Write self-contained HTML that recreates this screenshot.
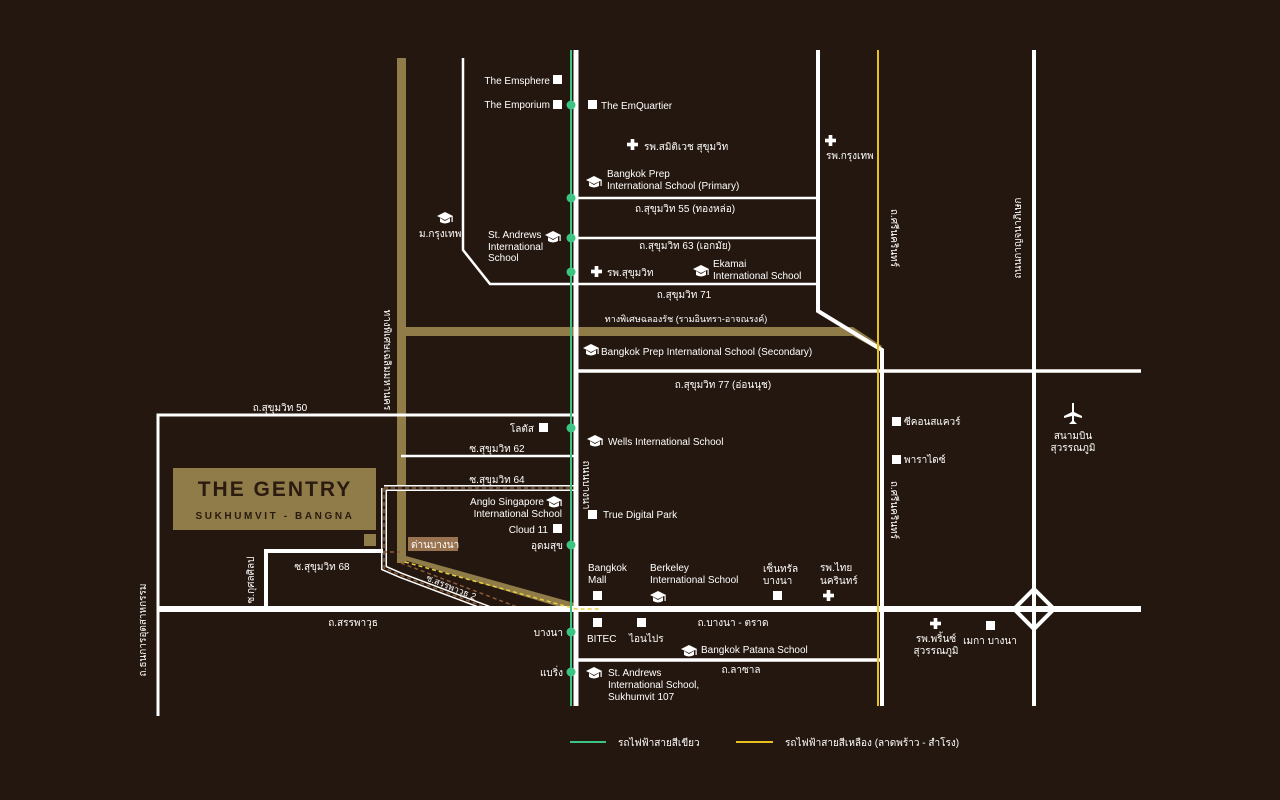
<!DOCTYPE html>
<html><head><meta charset="utf-8"><style>
html,body{margin:0;padding:0;background:#24170f;}
svg{display:block}
text{font-family:"Liberation Sans","DejaVu Sans",sans-serif;font-size:10px;fill:#fff;}
</style></head><body>
<svg width="1280" height="800" viewBox="0 0 1280 800" xmlns="http://www.w3.org/2000/svg">
<defs>
<symbol id="cap" viewBox="0 0 16 12"><polygon points="0,4 8,0 16,4 8,8" fill="#fff"/><path d="M3,6 L3,10 Q8,13 13,10 L13,6 L8,9 Z" fill="#fff"/><rect x="14.5" y="4" width="1.2" height="6" fill="#fff"/></symbol>
<symbol id="cross" viewBox="0 0 12 12"><rect x="4" y="0" width="4" height="12" fill="#fff"/><rect x="0" y="4" width="12" height="4" fill="#fff"/></symbol>
</defs>
<rect width="1280" height="800" fill="#24170f"/>

<!-- gold expressways -->
<rect x="397" y="58" width="9" height="505" fill="#8f7c48"/>
<rect x="401" y="327" width="452" height="9" fill="#8f7c48"/>
<polygon points="397,558 406,556 578,604 576,612" fill="#8f7c48"/>
<polygon points="853,327 882,346 878,350 853,336" fill="#8f7c48"/>

<!-- dashed rail (double white with dark dashes) -->
<g stroke="#fff" stroke-width="6" fill="none">
<polyline points="384,488 576,488"/>
<polyline points="384,488 384,568 400,575 490,609"/>
</g>
<g stroke="#24170f" stroke-width="3" fill="none">
<polyline points="384,488 576,488"/>
<polyline points="384,488 384,568 400,575 490,609"/>
</g>
<g stroke="#8a5a35" stroke-width="1.5" stroke-dasharray="4,3" fill="none">
<polyline points="384,488 576,488"/>
<polyline points="384,488 384,568 400,575 490,609"/>
<polyline points="401,563 520,608 576,608"/>
<line x1="369" y1="552" x2="400" y2="552"/>
</g>

<!-- white roads -->
<g stroke="#fff" fill="none">
<line x1="576" y1="50" x2="576" y2="706" stroke-width="5"/>
<polyline points="463,58 463,250 490,284 818,284" stroke-width="2.5"/>
<polyline points="818,50 818,311 882,350 882,706" stroke-width="4"/>
<line x1="1034" y1="50" x2="1034" y2="706" stroke-width="4"/>
<line x1="576" y1="198" x2="818" y2="198" stroke-width="2.5"/>
<line x1="576" y1="238" x2="818" y2="238" stroke-width="2.5"/>
<line x1="576" y1="371" x2="1141" y2="371" stroke-width="3.5"/>
<polyline points="158,716 158,415 576,415" stroke-width="3"/>
<line x1="401" y1="456" x2="576" y2="456" stroke-width="2.5"/>
<line x1="158" y1="609" x2="1141" y2="609" stroke-width="6"/>
<line x1="576" y1="660" x2="882" y2="660" stroke-width="3.5"/>
<polyline points="266,608 266,551 383,551" stroke-width="4"/>
<polygon points="1034,589 1054,609 1034,629 1014,609" stroke-width="4"/>
</g>
<polyline points="405,562 576,609 600,609" stroke="#e8d040" stroke-width="1.5" stroke-dasharray="4,3" fill="none"/>

<!-- green & yellow lines -->
<line x1="571" y1="50" x2="571" y2="706" stroke="#3cc482" stroke-width="2"/>
<line x1="878" y1="50" x2="878" y2="706" stroke="#e8c020" stroke-width="2"/>
<g fill="#3cc482">
<circle cx="571" cy="105" r="4.5"/><circle cx="571" cy="198" r="4.5"/><circle cx="571" cy="238" r="4.5"/><circle cx="571" cy="272" r="4.5"/>
<circle cx="571" cy="428" r="4.5"/><circle cx="571" cy="545" r="4.5"/><circle cx="571" cy="632" r="4.5"/><circle cx="571" cy="672" r="4.5"/>
</g>

<!-- Gentry logo -->
<rect x="173" y="468" width="203" height="62" fill="#8f7c48"/>
<text x="275" y="496" text-anchor="middle" style="font-size:21px;font-weight:bold;fill:#2a1a10;letter-spacing:2px">THE GENTRY</text>
<text x="275" y="519" text-anchor="middle" style="font-size:10px;font-weight:bold;fill:#2a1a10;letter-spacing:2.6px">SUKHUMVIT - BANGNA</text>
<rect x="364" y="534" width="12" height="12" fill="#8f7c48"/>
<rect x="408" y="537" width="50" height="14" fill="#9a7350"/>
<text x="411" y="548" style="font-size:10px">ด่านบางนา</text>

<!-- squares -->
<g fill="#fff">
<rect x="553" y="75" width="9" height="9"/><rect x="553" y="100" width="9" height="9"/><rect x="588" y="100" width="9" height="9"/>
<rect x="539" y="423" width="9" height="9"/><rect x="553" y="524" width="9" height="9"/><rect x="588" y="510" width="9" height="9"/>
<rect x="593" y="591" width="9" height="9"/><rect x="773" y="591" width="9" height="9"/><rect x="593" y="618" width="9" height="9"/><rect x="637" y="618" width="9" height="9"/>
<rect x="892" y="417" width="9" height="9"/><rect x="892" y="455" width="9" height="9"/><rect x="986" y="621" width="9" height="9"/>
</g>
<use href="#cross" x="627" y="139" width="11" height="11"/>
<use href="#cross" x="825" y="135" width="11" height="11"/>
<use href="#cross" x="591" y="266" width="11" height="11"/>
<use href="#cross" x="823" y="590" width="11" height="11"/>
<use href="#cross" x="930" y="618" width="11" height="11"/>
<use href="#cap" x="586" y="176" width="16" height="12"/>
<use href="#cap" x="437" y="212" width="16" height="12"/>
<use href="#cap" x="545" y="231" width="16" height="12"/>
<use href="#cap" x="693" y="265" width="16" height="12"/>
<use href="#cap" x="583" y="344" width="16" height="12"/>
<use href="#cap" x="587" y="435" width="16" height="12"/>
<use href="#cap" x="546" y="496" width="16" height="12"/>
<use href="#cap" x="650" y="591" width="16" height="12"/>
<use href="#cap" x="681" y="645" width="16" height="12"/>
<use href="#cap" x="586" y="667" width="16" height="12"/>
<!-- airplane -->
<path d="M1072,403 L1074,403 L1074,412 L1082,416 L1082,418 L1074,416 L1074,421 L1077,424 L1069,424 L1072,421 L1072,416 L1064,418 L1064,416 L1072,412 Z" fill="#fff"/>

<!-- labels -->
<g>
<text x="550" y="84" text-anchor="end">The Emsphere</text>
<text x="550" y="108" text-anchor="end">The Emporium</text>
<text x="601" y="109">The EmQuartier</text>
<text x="644" y="150">รพ.สมิติเวช สุขุมวิท</text>
<text x="607" y="177">Bangkok Prep</text>
<text x="607" y="189">International School (Primary)</text>
<text x="826" y="159">รพ.กรุงเทพ</text>
<text x="685" y="212" text-anchor="middle">ถ.สุขุมวิท 55 (ทองหล่อ)</text>
<text x="419" y="237">ม.กรุงเทพ</text>
<text x="488" y="238">St. Andrews</text>
<text x="488" y="250">International</text>
<text x="488" y="261">School</text>
<text x="685" y="249" text-anchor="middle">ถ.สุขุมวิท 63 (เอกมัย)</text>
<text x="607" y="276">รพ.สุขุมวิท</text>
<text x="713" y="267">Ekamai</text>
<text x="713" y="279">International School</text>
<text x="684" y="298" text-anchor="middle">ถ.สุขุมวิท 71</text>
<text x="686" y="322" text-anchor="middle" style="font-size:9px">ทางพิเศษฉลองรัช (รามอินทรา-อาจณรงค์)</text>
<text x="601" y="355">Bangkok Prep International School (Secondary)</text>
<text x="723" y="388" text-anchor="middle">ถ.สุขุมวิท 77 (อ่อนนุช)</text>
<text x="280" y="411" text-anchor="middle">ถ.สุขุมวิท 50</text>
<text x="534" y="432" text-anchor="end">โลตัส</text>
<text x="608" y="445">Wells International School</text>
<text x="497" y="452" text-anchor="middle">ซ.สุขุมวิท 62</text>
<text x="497" y="483" text-anchor="middle">ซ.สุขุมวิท 64</text>
<text x="544" y="505" text-anchor="end">Anglo Singapore</text>
<text x="562" y="517" text-anchor="end">International School</text>
<text x="548" y="533" text-anchor="end">Cloud 11</text>
<text x="563" y="549" text-anchor="end">อุดมสุข</text>
<text x="603" y="518">True Digital Park</text>
<text x="322" y="570" text-anchor="middle">ซ.สุขุมวิท 68</text>
<text x="353" y="626" text-anchor="middle">ถ.สรรพาวุธ</text>
<text x="588" y="571">Bangkok</text>
<text x="588" y="583">Mall</text>
<text x="650" y="571">Berkeley</text>
<text x="650" y="583">International School</text>
<text x="763" y="572">เซ็นทรัล</text>
<text x="763" y="584">บางนา</text>
<text x="820" y="571">รพ.ไทย</text>
<text x="820" y="584">นครินทร์</text>
<text x="587" y="642">BITEC</text>
<text x="629" y="642">ไอนไปร</text>
<text x="733" y="626" text-anchor="middle">ถ.บางนา - ตราด</text>
<text x="701" y="653">Bangkok Patana School</text>
<text x="741" y="673" text-anchor="middle">ถ.ลาซาล</text>
<text x="563" y="636" text-anchor="end">บางนา</text>
<text x="563" y="676" text-anchor="end">แบริ่ง</text>
<text x="608" y="676">St. Andrews</text>
<text x="608" y="688">International School,</text>
<text x="608" y="700">Sukhumvit 107</text>
<text x="904" y="425">ซีคอนสแควร์</text>
<text x="904" y="463">พาราไดซ์</text>
<text x="1073" y="439" text-anchor="middle">สนามบิน</text>
<text x="1073" y="451" text-anchor="middle">สุวรรณภูมิ</text>
<text x="936" y="642" text-anchor="middle">รพ.พริ้นซ์</text>
<text x="936" y="654" text-anchor="middle">สุวรรณภูมิ</text>
<text x="990" y="644" text-anchor="middle">เมกา บางนา</text>
<text transform="translate(384,360) rotate(90)" text-anchor="middle">ทางพิเศษเฉลิมมหานคร</text>
<text transform="translate(583,485) rotate(90)" text-anchor="middle">ถนนบางนา</text>
<text transform="translate(891,238) rotate(90)" text-anchor="middle">ถ.ศรีนครินทร์</text>
<text transform="translate(891,510) rotate(90)" text-anchor="middle">ถ.ศรีนครินทร์</text>
<text transform="translate(1021,238) rotate(-90)" text-anchor="middle">ถนนกาญจนาภิเษก</text>
<text transform="translate(254,580) rotate(-90)" text-anchor="middle">ซ.กุศลศิลป</text>
<text transform="translate(146,630) rotate(-90)" text-anchor="middle">ถ.ธนการอุตสาหกรรม</text>
<text transform="translate(450,590) rotate(22)" text-anchor="middle" style="font-size:9px">ซ.สรรพาวุธ 2</text>
</g>

<!-- legend -->
<line x1="570" y1="742" x2="606" y2="742" stroke="#3cc482" stroke-width="2"/>
<text x="618" y="746">รถไฟฟ้าสายสีเขียว</text>
<line x1="736" y1="742" x2="773" y2="742" stroke="#e8c020" stroke-width="2"/>
<text x="785" y="746">รถไฟฟ้าสายสีเหลือง (ลาดพร้าว - สำโรง)</text>
</svg>
</body></html>
